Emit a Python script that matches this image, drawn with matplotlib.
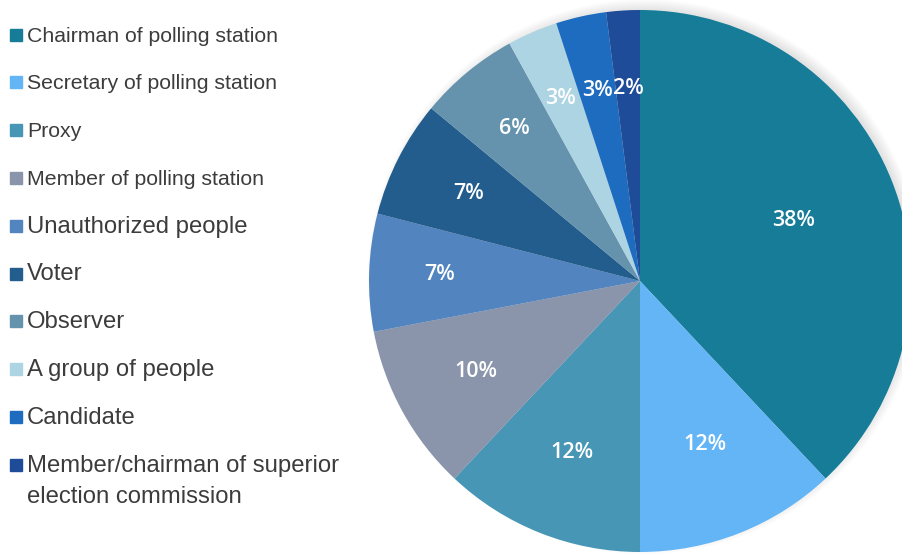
import numpy as np
import matplotlib.pyplot as plt
from matplotlib.patches import Circle, Rectangle

categories = [
    "Chairman of polling station",
    "Secretary of polling station",
    "Proxy",
    "Member of polling station",
    "Unauthorized people",
    "Voter",
    "Observer",
    "A group of people",
    "Candidate",
    "Member/chairman of superior\nelection commission",
]
shares = [38, 12, 12, 10, 7, 7, 6, 3, 3, 2]
colors = ["#167C98", "#64B5F6", "#4896B5", "#8A95AB", "#5284C0",
          "#225D8D", "#6593AE", "#ADD4E3", "#1E6CC0", "#1E4C98"]
# radial position of each percentage label (fraction of radius)
label_r = [0.61, 0.65, 0.68, 0.69, 0.74, 0.71, 0.73, 0.735, 0.72, 0.71]
# legend text sizes (the upper entries are set tighter)
legend_fs = [15.3, 15.3, 15.3, 15.3, 17.2, 17.2, 17.2, 17.2, 17.2, 17.2]

W, H = 902, 554
cx, cy, R = 640, 281, 271   # pie centre and radius in pixels

fig = plt.figure(figsize=(W / 100, H / 100), dpi=100)
ax = fig.add_axes([0, 0, 1, 1])

# soft shadow behind the pie, pushed up and to the right
for k in range(14):
    ax.add_patch(Circle((0.018, 0.016), 0.985 + k * 0.003, color="black",
                        alpha=0.009, lw=0, zorder=0))

wedges, _ = ax.pie(shares, colors=colors, startangle=90, counterclock=False,
                   radius=1.0, wedgeprops=dict(linewidth=0, zorder=2),
                   frame=True)
ax.set_xlim(-cx / R, (W - cx) / R)
ax.set_ylim(-(H - cy) / R, cy / R)
ax.set_aspect("auto")
ax.axis("off")

# percentage labels at wedge mid-angles
total = sum(shares)
cum = np.cumsum([0] + shares[:-1])
for v, c0, rr in zip(shares, cum, label_r):
    mid = np.deg2rad(90 - 360 * (c0 + v / 2) / total)
    ax.text(rr * np.cos(mid), rr * np.sin(mid), f"{v}%", color="white",
            ha="center", va="center", fontsize=15.5, fontweight="semibold",
            family="Open Sans", zorder=5)

# legend drawn as squares and text in pixel units
pitch = 47.8
line_gap = 31
for i, (lab, col, fs) in enumerate(zip(categories, colors, legend_fs)):
    yc = 34.5 + i * pitch
    fig.patches.append(Rectangle((10 / W, 1 - (yc + 6) / H), 12 / W, 12 / H,
                                 transform=fig.transFigure, color=col))
    for j, part in enumerate(lab.split("\n")):
        fig.text(27 / W, 1 - (yc + 7 + j * line_gap) / H, part,
                 ha="left", va="baseline", fontsize=fs, color="#3c3c3c",
                 family=["Liberation Sans", "DejaVu Sans"])

fig.savefig("out.png", dpi=100, facecolor="white")
